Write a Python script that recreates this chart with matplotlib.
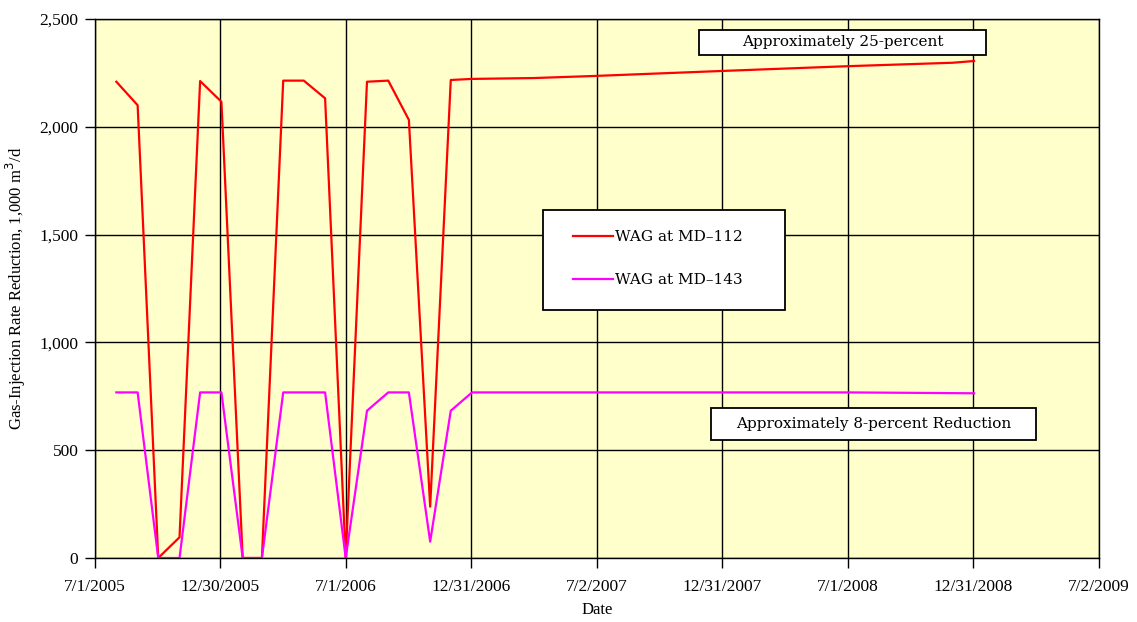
import matplotlib
matplotlib.use("Agg")
import matplotlib.pyplot as plt
from matplotlib.patches import Rectangle
from matplotlib.ticker import FuncFormatter
import pandas as pd

# monthly readings, WAG cycles through 2006 then steady
dates_112 = ["2005-08-01", "2005-09-01", "2005-10-01", "2005-11-01", "2005-12-01",
             "2006-01-01", "2006-02-01", "2006-03-01", "2006-04-01", "2006-05-01",
             "2006-06-01", "2006-07-01", "2006-08-01", "2006-09-01", "2006-10-01",
             "2006-11-01", "2006-12-01", "2007-01-01", "2007-04-01", "2007-07-01",
             "2008-01-01", "2008-07-01", "2008-12-01", "2009-01-01"]
md112 = [2209, 2100, 0, 96, 2212,
         2116, 0, 0, 2214, 2214,
         2132, 0, 2209, 2214, 2032,
         238, 2217, 2222, 2226, 2236,
         2259, 2281, 2297, 2305]

dates_143 = ["2005-08-01", "2005-09-01", "2005-10-01", "2005-11-01", "2005-12-01",
             "2006-01-01", "2006-02-01", "2006-03-01", "2006-04-01", "2006-05-01",
             "2006-06-01", "2006-07-01", "2006-08-01", "2006-09-01", "2006-10-01",
             "2006-11-01", "2006-12-01", "2007-01-01", "2008-07-01", "2009-01-01"]
md143 = [768, 768, 0, 0, 768,
         768, 0, 0, 768, 768,
         768, 0, 683, 768, 768,
         76, 683, 768, 768, 764]

tick_dates = ["2005-07-01", "2005-12-30", "2006-07-01", "2006-12-31", "2007-07-02",
              "2007-12-31", "2008-07-01", "2008-12-31", "2009-07-02"]
tick_labels = ["7/1/2005", "12/30/2005", "7/1/2006", "12/31/2006", "7/2/2007",
               "12/31/2007", "7/1/2008", "12/31/2008", "7/2/2009"]

plt.rcParams["font.family"] = ["Liberation Serif", "DejaVu Serif"]
box_font = ["DejaVu Serif"]

fig = plt.figure(figsize=(11.37, 6.22), dpi=100)
ax = fig.add_axes([0.0836, 0.1029, 0.883, 0.8666])
ax.set_facecolor("#FFFFCC")

ax.plot(pd.to_datetime(dates_112), md112, color="#FF0000", lw=1.6, label="WAG at MD\u2013112")
ax.plot(pd.to_datetime(dates_143), md143, color="#FF00FF", lw=1.6, label="WAG at MD\u2013143")

ax.set_xlim(pd.Timestamp(tick_dates[0]), pd.Timestamp(tick_dates[-1]))
ax.set_ylim(0, 2500)
ax.set_xticks(pd.to_datetime(tick_dates))
ax.set_xticklabels(tick_labels)
ax.set_yticks(range(0, 2501, 500))
ax.yaxis.set_major_formatter(FuncFormatter(lambda v, p: f"{int(v):,}"))
ax.tick_params(direction="out", length=7, width=1, labelsize=12.5, colors="black")
ax.tick_params(axis="x", pad=8)
ax.tick_params(axis="y", pad=5)

ax.grid(True, color="black", lw=1)
ax.set_axisbelow(True)
for s in ax.spines.values():
    s.set_color("black")
    s.set_linewidth(1)

ax.set_xlabel("Date", fontsize=12, labelpad=5)
ax.set_ylabel("Gas-Injection Rate Reduction, 1,000 m$^3$/d", fontsize=12, labelpad=8)

# legend box
ax.add_patch(Rectangle((0.4462, 0.4601), 0.2410, 0.1855, transform=ax.transAxes,
                       facecolor="white", edgecolor="black", lw=1.3, zorder=4))
leg = ax.legend(loc="center left", bbox_to_anchor=(0.476, 0.5557), frameon=False,
                prop={"family": box_font, "size": 11}, borderpad=0, borderaxespad=0,
                labelspacing=1.9, handlelength=2.6, handletextpad=0.15)
leg.set_zorder(5)

# annotation boxes
ax.add_patch(Rectangle((0.6016, 0.9332), 0.2859, 0.0464, transform=ax.transAxes,
                       facecolor="white", edgecolor="black", lw=1.3, zorder=4))
ax.text(0.7445, 0.9564, "Approximately 25-percent", transform=ax.transAxes,
        ha="center", va="center", fontsize=11, family=box_font, zorder=5)
ax.add_patch(Rectangle((0.6135, 0.2189), 0.3237, 0.0594, transform=ax.transAxes,
                       facecolor="white", edgecolor="black", lw=1.3, zorder=4))
ax.text(0.7754, 0.2486, "Approximately 8-percent Reduction", transform=ax.transAxes,
        ha="center", va="center", fontsize=11, family=box_font, zorder=5)

fig.savefig("out.png", dpi=100, facecolor="white")
